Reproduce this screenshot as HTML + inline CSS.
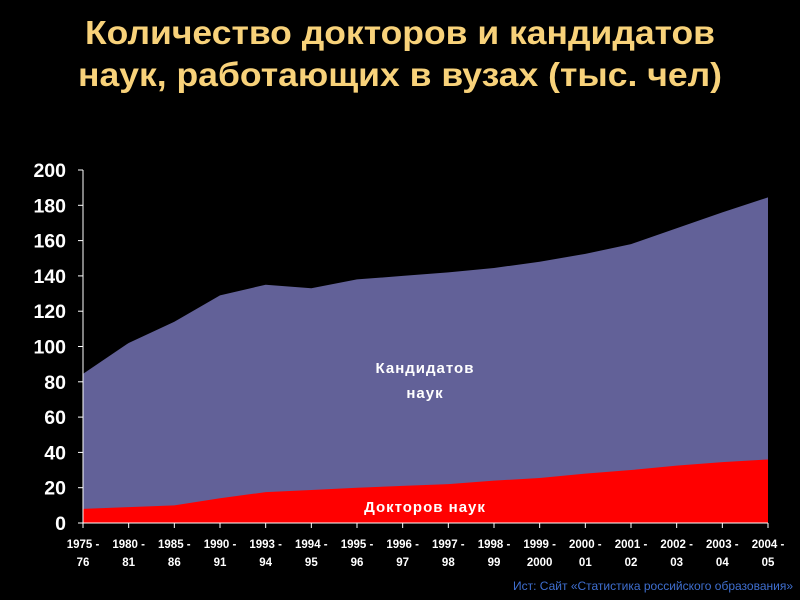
<!DOCTYPE html>
<html><head><meta charset="utf-8"><style>
html,body{margin:0;padding:0;background:#000;}
svg{display:block;font-family:"Liberation Sans","DejaVu Sans",sans-serif;}
</style></head><body>
<svg id="chart" width="800" height="600" viewBox="0 0 800 600">
<text x="400" y="44" text-anchor="middle" font-size="33" font-weight="bold" fill="#F8D27A" textLength="630" lengthAdjust="spacingAndGlyphs">Количество докторов и кандидатов</text>
<text x="400" y="86" text-anchor="middle" font-size="33" font-weight="bold" fill="#F8D27A" textLength="644" lengthAdjust="spacingAndGlyphs">наук, работающих в вузах (тыс. чел)</text>
<g id="plot"></g>
<text x="793" y="590" text-anchor="end" font-size="12" fill="#3F6FD0">Ист: Сайт «Статистика российского образования»</text>
</svg>
<script>
const categories=["1975 -|76","1980 -|81","1985 -|86","1990 -|91","1993 -|94","1994 -|95","1995 -|96","1996 -|97","1997 -|98","1998 -|99","1999 -|2000","2000 -|01","2001 -|02","2002 -|03","2003 -|04","2004 -|05"];
const totalValues=[84.5,102,114,129,135,133,138,140,142,144.5,148,152.5,158,167,176,184.5];
const doctorValues=[8,9,10,14,17.5,18.7,20,21,22,24,25.5,28,30,32.5,34.5,36];
const yTicks=[0,20,40,60,80,100,120,140,160,180,200];
const NS="http://www.w3.org/2000/svg";
const g=document.getElementById('plot');
const X0=83,X1=768,Y0=523,Y1=170;
const x=i=>X0+(X1-X0)*i/(categories.length-1);
const y=v=>Y0-(Y0-Y1)*v/200;
function el(t,a){const e=document.createElementNS(NS,t);for(const k in a)e.setAttribute(k,a[k]);g.appendChild(e);return e;}
let p="M"+x(0)+","+y(0);
totalValues.forEach((v,i)=>p+=" L"+x(i)+","+y(v));
p+=" L"+x(categories.length-1)+","+y(0)+" Z";
const a1=el('path',{d:p,fill:'#626198'});


let q="M"+x(0)+","+y(0);
doctorValues.forEach((v,i)=>q+=" L"+x(i)+","+y(v));
q+=" L"+x(categories.length-1)+","+y(0)+" Z";
const a2=el('path',{d:q,fill:'#FF0000'});


const ax=el('line',{x1:X0,y1:Y1,x2:X0,y2:Y0,stroke:'#fff','stroke-width':1});


const bx=el('line',{x1:X0,y1:Y0,x2:X1,y2:Y0,stroke:'#fff','stroke-width':1});


yTicks.forEach(v=>{
 el('line',{x1:X0-5,x2:X0,y1:y(v),y2:y(v),stroke:'#fff'});
 const t=el('text',{x:X0-17,y:y(v)+7,'text-anchor':'end','font-size':19.5,'font-weight':'bold',fill:'#fff'});
 t.textContent=v;
 
 
});
categories.forEach((c,i)=>{
 el('line',{x1:x(i),x2:x(i),y1:Y0,y2:Y0+5,stroke:'#fff'});
 const parts=c.split('|');
 parts.forEach((s,j)=>{
  const t=el('text',{x:x(i),y:Y0+25+j*18,'text-anchor':'middle','font-size':11.5,'font-weight':'bold',fill:'#fff'});
  t.textContent=s;
  
  
 });
});
const l1=el('text',{x:425,y:373,'text-anchor':'middle','font-size':15,'font-weight':'bold',fill:'#fff','letter-spacing':1});
l1.textContent='Кандидатов';


const l2=el('text',{x:425,y:398,'text-anchor':'middle','font-size':15,'font-weight':'bold',fill:'#fff','letter-spacing':1});
l2.textContent='наук';


const l3=el('text',{x:425,y:512,'text-anchor':'middle','font-size':15,'font-weight':'bold',fill:'#fff','letter-spacing':1});
l3.textContent='Докторов наук';


</script>
</body></html>
